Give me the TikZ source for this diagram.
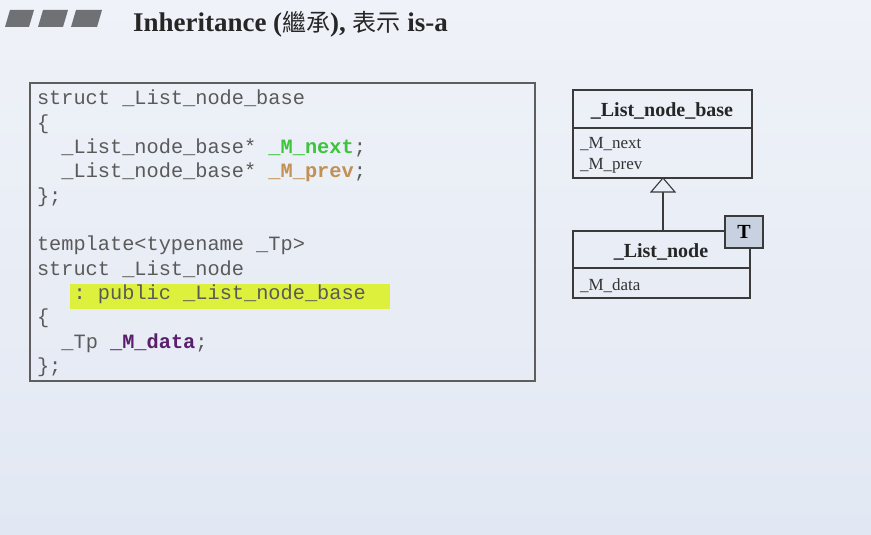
\documentclass[tikz,border=0pt]{standalone}
\usepackage{fontspec}
\setmainfont{Liberation Serif}
\setmonofont{Liberation Mono}
\newfontfamily\cjk{Noto Sans CJK TC}
\begin{document}
\begin{tikzpicture}[x=1pt,y=-1pt,
  every node/.style={inner sep=0pt, outer sep=0pt},
  code/.style={anchor=base west, text=codegray, font=\fontsize{20.3}{24}\ttfamily},
  umlbox/.style={draw=umlline, line width=1.1pt},
  umltitle/.style={anchor=base, text=black!85, font=\fontsize{20}{24}\bfseries},
  umlattr/.style={anchor=base west, text=black!80, font=\fontsize{17}{20}\selectfont},
  headmark/.style={fill=markgray},
  cjktext/.style={}
]
\definecolor{bgtop}{HTML}{EFF2F8}
\definecolor{bgbot}{HTML}{E2E8F3}
\definecolor{codegray}{HTML}{5A5A5A}
\definecolor{mgreen}{HTML}{3CC43C}
\definecolor{mtan}{HTML}{C28F55}
\definecolor{mpurple}{HTML}{5A1E6C}
\definecolor{hilite}{HTML}{DDF03C}
\definecolor{umlline}{HTML}{3A3A3A}
\definecolor{tbox}{HTML}{C8D1DF}
\definecolor{markgray}{HTML}{707174}
\definecolor{frame}{HTML}{5E5E5E}

\useasboundingbox (0,0) rectangle (871,535);
\shade[top color=bgtop, bottom color=bgbot] (0,0) rectangle (871,535);

% heading marks and title
\fill[headmark] (5,27) -- (29,27) -- (34,10) -- (10,10) -- cycle;
\fill[headmark] (38,27) -- (63,27) -- (68,10) -- (43,10) -- cycle;
\fill[headmark] (71,27) -- (97,27) -- (102,10) -- (76,10) -- cycle;
\node[anchor=base west, text=black!85, font=\fontsize{27}{32}\bfseries] (title) at (133,32)
  {Inheritance ({\cjk\mdseries\fontsize{24}{28}\selectfont 繼承}), {\cjk\mdseries\fontsize{24}{28}\selectfont 表示} is-a};

% source code panel
\draw[frame, line width=1.3pt] (30,83) rectangle (535,381);
\fill[hilite] (70,284) rectangle (390,309);
\node[code] (c1)  at (37,105)   {struct \_List\_node\_base};
\node[code] (c2)  at (37,129.3) {\{};
\node[code] (c3)  at (61.4,153.6) {\_List\_node\_base* {\bfseries\color{mgreen}\_M\_next};};
\node[code] (c4)  at (61.4,177.9) {\_List\_node\_base* {\bfseries\color{mtan}\_M\_prev};};
\node[code] (c5)  at (37,202.2) {\};};
\node[code] (c7)  at (37,250.8) {template<typename \_Tp>};
\node[code] (c8)  at (37,275.1) {struct \_List\_node};
\node[code] (c9)  at (73.6,299.4) {: public \_List\_node\_base};
\node[code] (c10) at (37,323.7) {\{};
\node[code] (c11) at (61.4,348.0) {\_Tp {\bfseries\color{mpurple}\_M\_data};};
\node[code] (c12) at (37,372.3) {\};};

% UML: base class
\draw[umlbox] (573,90) rectangle (752,178);
\draw[umlbox] (573,128) -- (752,128);
\node[umltitle] (basename) at (662,117) {\_List\_node\_base};
\node[umlattr] (anext) at (580,149) {\_M\_next};
\node[umlattr] (aprev) at (580,169) {\_M\_prev};
\coordinate (basebot) at (663,178);

% UML: derived template class
\draw[umlbox] (573,231) rectangle (750,298);
\draw[umlbox] (573,268) -- (750,268);
\node[umltitle] (derivedname) at (661,257) {\_List\_node};
\node[umlattr] (adata) at (580,290) {\_M\_data};
\coordinate (derivedtop) at (663,231);
\node[draw=umlline, line width=1.1pt, fill=tbox, minimum width=38pt, minimum height=32pt,
      font=\fontsize{20}{24}\bfseries] (tparam) at (744,232) {T};

% generalization arrow
\draw[umlline, line width=1.1pt] (derivedtop) -- (663,192);
\draw[umlline, line width=1.1pt, fill=bgtop!60!bgbot] (basebot) -- (675,192) -- (651,192) -- cycle;
\end{tikzpicture}
\end{document}
